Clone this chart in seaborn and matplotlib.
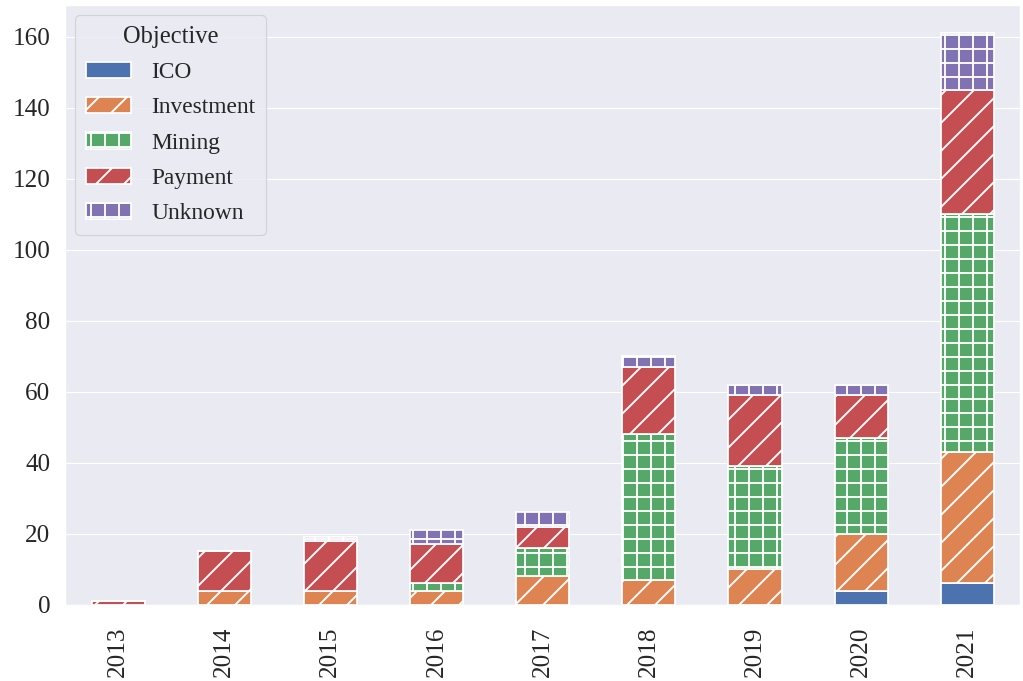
import matplotlib
matplotlib.use("Agg")
import matplotlib.pyplot as plt
from matplotlib.patches import Patch
import numpy as np
import pandas as pd
import seaborn as sns

# Incidents per year, broken down by objective
years = ["2013", "2014", "2015", "2016", "2017", "2018", "2019", "2020", "2021"]
objectives = ["ICO", "Investment", "Mining", "Payment", "Unknown"]
ico = [0, 0, 0, 0, 0, 0, 0, 4, 6]
investment = [0, 4, 4, 4, 8, 7, 10, 16, 37]
mining = [0, 0, 0, 2, 8, 41, 29, 27, 67]
payment = [1, 11, 14, 11, 6, 19, 20, 12, 35]
unknown = [0, 0, 1, 4, 4, 3, 3, 3, 16]

series = {"ICO": ico, "Investment": investment, "Mining": mining,
          "Payment": payment, "Unknown": unknown}
hatches = {"ICO": "", "Investment": "/", "Mining": "+", "Payment": "/", "Unknown": "+"}

sns.set_theme(style="darkgrid", palette="deep")
plt.rcParams["font.family"] = ["Liberation Serif", "DejaVu Serif"]
plt.rcParams["hatch.linewidth"] = 1.6
colors = dict(zip(objectives, sns.color_palette("deep", len(objectives))))

dpi = 84
fig = plt.figure(figsize=(1023 / dpi, 681 / dpi), dpi=dpi)
ax = fig.add_axes([0.0635, 0.112, 0.934, 0.881])

bottom = np.zeros(len(years))
for name in objectives:
    vals = np.array(series[name], dtype=float)
    df = pd.DataFrame({"year": years, "count": vals})
    sns.barplot(data=df, x="year", y="count", order=years, ax=ax,
                color=colors[name], saturation=1, width=0.5,
                bottom=bottom.copy(), edgecolor="white", linewidth=1.5,
                hatch=hatches[name], errorbar=None)
    bottom += vals

ax.set_ylim(0, bottom.max() * 1.05)
ax.set_xlim(-0.5, len(years) - 0.5)
ax.set_yticks(np.arange(0, 161, 20))
ax.set_xlabel("")
ax.set_ylabel("")
ax.tick_params(axis="y", labelsize=21.5, pad=6.5)
ax.tick_params(axis="x", labelsize=21.5, pad=13, labelrotation=90)

handles = [Patch(facecolor=colors[n], edgecolor="white", hatch=hatches[n], linewidth=1.5)
           for n in objectives]
ax.legend(handles=handles, labels=objectives, title="Objective", loc="upper left",
          fontsize=20, title_fontsize=21, frameon=True, borderpad=0.45,
          borderaxespad=0.45, handlelength=1.95, handletextpad=0.85,
          labelspacing=0.6)

fig.savefig("out.png", dpi=dpi)
